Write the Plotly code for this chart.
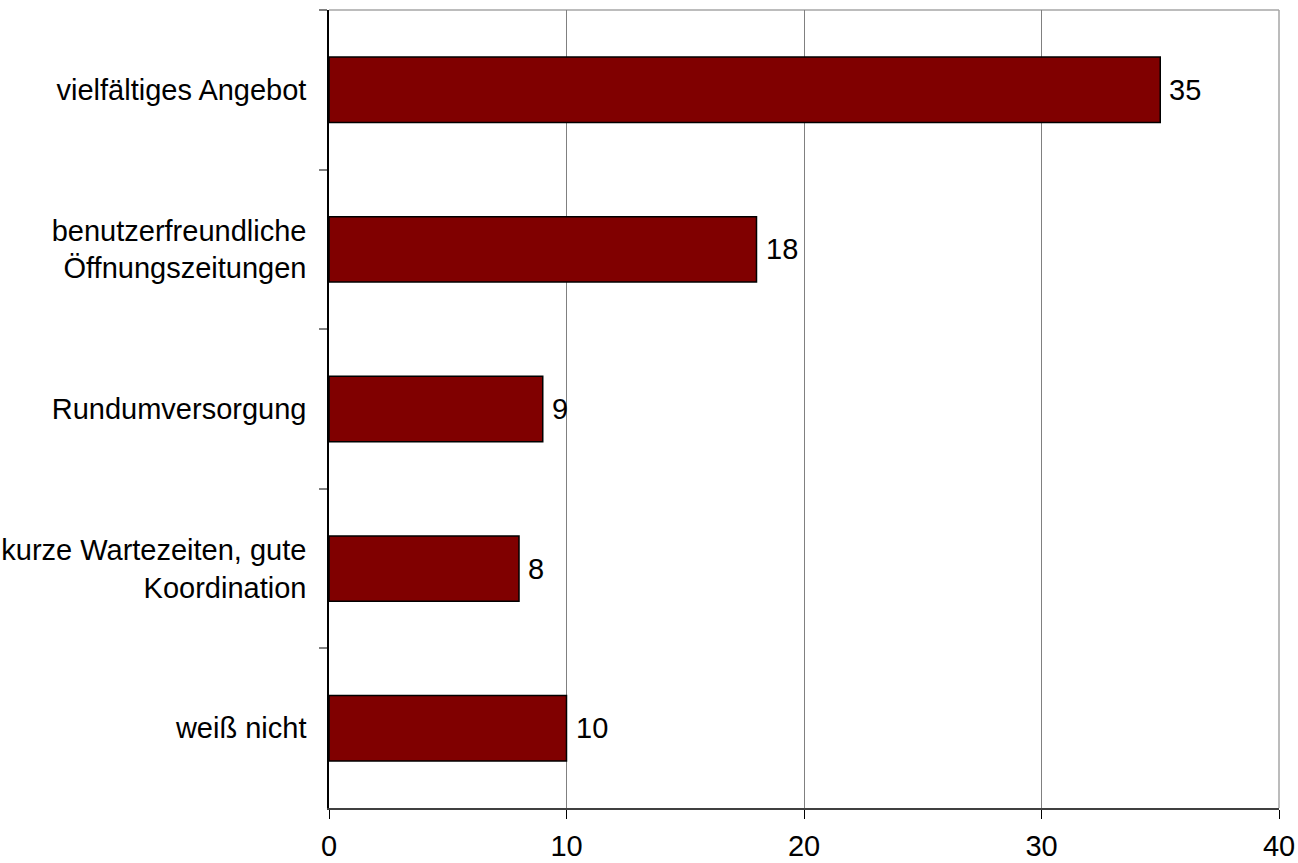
import plotly.graph_objects as go

categories = [
    "vielfältiges Angebot",
    "benutzerfreundliche<br>Öffnungszeitungen",
    "Rundumversorgung",
    "kurze Wartezeiten, gute<br>Koordination",
    "weiß nicht",
]
values = [35, 18, 9, 8, 10]
x_ticks = [0, 10, 20, 30, 40]

FONT = "Liberation Sans, Arial, sans-serif"
FSIZE = 29

fig = go.Figure()
fig.add_trace(go.Bar(
    y=categories,
    x=values,
    orientation="h",
    width=0.41,
    marker=dict(color="#800000", line=dict(color="#000000", width=1.5)),
    hoverinfo="skip",
))

# value labels just right of each bar
for cat, val in zip(categories, values):
    fig.add_annotation(
        x=val, y=cat, text=str(val), showarrow=False,
        xanchor="left", yanchor="middle", xshift=7,
        font=dict(family=FONT, size=FSIZE, color="#000000"),
    )

# light frame on top and right of the plot area
fig.add_shape(type="line", xref="paper", yref="paper", x0=0, x1=1, y0=1, y1=1,
              line=dict(color="#a6a6a6", width=1.5), layer="below")
fig.add_shape(type="line", xref="paper", yref="paper", x0=1, x1=1, y0=0, y1=1,
              line=dict(color="#a6a6a6", width=1.5), layer="below")

fig.update_layout(
    width=1298, height=863,
    margin=dict(l=329, r=19, t=10, b=55),
    paper_bgcolor="white", plot_bgcolor="white",
    showlegend=False,
    font=dict(family=FONT, size=FSIZE, color="#000000"),
)
fig.update_xaxes(
    range=[0, 40], tickvals=x_ticks, ticktext=[str(t) for t in x_ticks],
    automargin=False,
    showgrid=True, gridcolor="#808080", gridwidth=1,
    showline=True, linecolor="#404040", linewidth=1.5,
    ticks="outside", ticklen=9, tickcolor="#000000", tickwidth=1,
    ticklabelstandoff=2, zeroline=False,
    tickfont=dict(family=FONT, size=FSIZE, color="#000000"),
)
fig.update_yaxes(
    autorange="reversed", type="category", automargin=False,
    showgrid=False, showline=True, linecolor="#000000", linewidth=1.5,
    ticks="outside", ticklen=8, tickcolor="#808080", tickwidth=1.5,
    tickson="boundaries", ticklabelstandoff=15,
    tickfont=dict(family=FONT, size=FSIZE, color="#000000"),
)

fig.write_html("out.html")
